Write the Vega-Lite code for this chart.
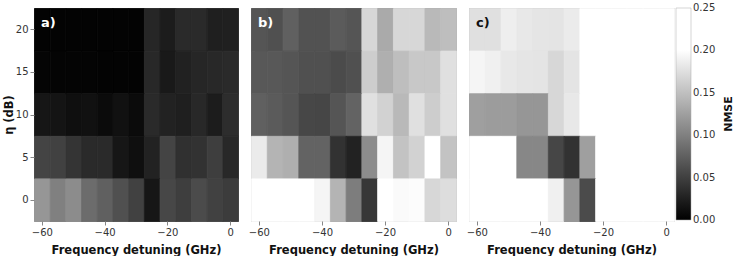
{
  "$schema": "https://vega.github.io/schema/vega-lite/v6.json",
  "background": "white",
  "padding": {"left": 2, "top": 7, "right": 0, "bottom": 0},
  "bounds": "flush",
  "config": {
    "font": "DejaVu Sans",
    "view": {"stroke": "#999", "strokeWidth": 1},
    "concat": {"spacing": 13},
    "axis": {
      "domain": false,
      "grid": false,
      "tickColor": "#888",
      "tickSize": 4,
      "labelFontSize": 10,
      "labelColor": "#333",
      "labelPadding": 2,
      "titleFontSize": 11.5,
      "titleFontWeight": "bold",
      "titleColor": "#111"
    },
    "legend": {
      "gradientLength": 212,
      "gradientThickness": 15,
      "gradientStrokeColor": "#aaa",
      "gradientStrokeWidth": 0.5,
      "offset": 0,
      "padding": 0,
      "labelFontSize": 10,
      "labelColor": "#333",
      "labelOffset": 5,
      "labelOverlap": false,
      "titleFontSize": 11,
      "titleFontWeight": "bold",
      "titleColor": "#111"
    }
  },
  "datasets": {
    "a": [
      {"f": -60, "eta": 20, "nmse": 0.002}, {"f": -55, "eta": 20, "nmse": 0.002}, {"f": -50, "eta": 20, "nmse": 0.002}, {"f": -45, "eta": 20, "nmse": 0.002}, {"f": -40, "eta": 20, "nmse": 0.002}, {"f": -35, "eta": 20, "nmse": 0.002}, {"f": -30, "eta": 20, "nmse": 0.002}, {"f": -25, "eta": 20, "nmse": 0.030}, {"f": -20, "eta": 20, "nmse": 0.022}, {"f": -15, "eta": 20, "nmse": 0.033}, {"f": -10, "eta": 20, "nmse": 0.033}, {"f": -5, "eta": 20, "nmse": 0.024}, {"f": 0, "eta": 20, "nmse": 0.025},
      {"f": -60, "eta": 15, "nmse": 0.004}, {"f": -55, "eta": 15, "nmse": 0.003}, {"f": -50, "eta": 15, "nmse": 0.003}, {"f": -45, "eta": 15, "nmse": 0.003}, {"f": -40, "eta": 15, "nmse": 0.002}, {"f": -35, "eta": 15, "nmse": 0.002}, {"f": -30, "eta": 15, "nmse": 0.002}, {"f": -25, "eta": 15, "nmse": 0.031}, {"f": -20, "eta": 15, "nmse": 0.020}, {"f": -15, "eta": 15, "nmse": 0.026}, {"f": -10, "eta": 15, "nmse": 0.030}, {"f": -5, "eta": 15, "nmse": 0.031}, {"f": 0, "eta": 15, "nmse": 0.033},
      {"f": -60, "eta": 10, "nmse": 0.017}, {"f": -55, "eta": 10, "nmse": 0.016}, {"f": -50, "eta": 10, "nmse": 0.012}, {"f": -45, "eta": 10, "nmse": 0.013}, {"f": -40, "eta": 10, "nmse": 0.009}, {"f": -35, "eta": 10, "nmse": 0.013}, {"f": -30, "eta": 10, "nmse": 0.009}, {"f": -25, "eta": 10, "nmse": 0.033}, {"f": -20, "eta": 10, "nmse": 0.027}, {"f": -15, "eta": 10, "nmse": 0.024}, {"f": -10, "eta": 10, "nmse": 0.031}, {"f": -5, "eta": 10, "nmse": 0.022}, {"f": 0, "eta": 10, "nmse": 0.035},
      {"f": -60, "eta": 5, "nmse": 0.053}, {"f": -55, "eta": 5, "nmse": 0.051}, {"f": -50, "eta": 5, "nmse": 0.041}, {"f": -45, "eta": 5, "nmse": 0.033}, {"f": -40, "eta": 5, "nmse": 0.033}, {"f": -35, "eta": 5, "nmse": 0.017}, {"f": -30, "eta": 5, "nmse": 0.012}, {"f": -25, "eta": 5, "nmse": 0.027}, {"f": -20, "eta": 5, "nmse": 0.053}, {"f": -15, "eta": 5, "nmse": 0.038}, {"f": -10, "eta": 5, "nmse": 0.039}, {"f": -5, "eta": 5, "nmse": 0.049}, {"f": 0, "eta": 5, "nmse": 0.031},
      {"f": -60, "eta": 0, "nmse": 0.118}, {"f": -55, "eta": 0, "nmse": 0.100}, {"f": -50, "eta": 0, "nmse": 0.110}, {"f": -45, "eta": 0, "nmse": 0.085}, {"f": -40, "eta": 0, "nmse": 0.075}, {"f": -35, "eta": 0, "nmse": 0.063}, {"f": -30, "eta": 0, "nmse": 0.051}, {"f": -25, "eta": 0, "nmse": 0.017}, {"f": -20, "eta": 0, "nmse": 0.056}, {"f": -15, "eta": 0, "nmse": 0.049}, {"f": -10, "eta": 0, "nmse": 0.059}, {"f": -5, "eta": 0, "nmse": 0.051}, {"f": 0, "eta": 0, "nmse": 0.047}
    ],
    "b": [
      {"f": -60, "eta": 20, "nmse": 0.067}, {"f": -55, "eta": 20, "nmse": 0.063}, {"f": -50, "eta": 20, "nmse": 0.075}, {"f": -45, "eta": 20, "nmse": 0.064}, {"f": -40, "eta": 20, "nmse": 0.064}, {"f": -35, "eta": 20, "nmse": 0.071}, {"f": -30, "eta": 20, "nmse": 0.067}, {"f": -25, "eta": 20, "nmse": 0.169}, {"f": -20, "eta": 20, "nmse": 0.133}, {"f": -15, "eta": 20, "nmse": 0.169}, {"f": -10, "eta": 20, "nmse": 0.169}, {"f": -5, "eta": 20, "nmse": 0.145}, {"f": 0, "eta": 20, "nmse": 0.149},
      {"f": -60, "eta": 15, "nmse": 0.069}, {"f": -55, "eta": 15, "nmse": 0.069}, {"f": -50, "eta": 15, "nmse": 0.067}, {"f": -45, "eta": 15, "nmse": 0.063}, {"f": -40, "eta": 15, "nmse": 0.063}, {"f": -35, "eta": 15, "nmse": 0.059}, {"f": -30, "eta": 15, "nmse": 0.063}, {"f": -25, "eta": 15, "nmse": 0.161}, {"f": -20, "eta": 15, "nmse": 0.137}, {"f": -15, "eta": 15, "nmse": 0.149}, {"f": -10, "eta": 15, "nmse": 0.157}, {"f": -5, "eta": 15, "nmse": 0.157}, {"f": 0, "eta": 15, "nmse": 0.176},
      {"f": -60, "eta": 10, "nmse": 0.075}, {"f": -55, "eta": 10, "nmse": 0.071}, {"f": -50, "eta": 10, "nmse": 0.067}, {"f": -45, "eta": 10, "nmse": 0.056}, {"f": -40, "eta": 10, "nmse": 0.055}, {"f": -35, "eta": 10, "nmse": 0.067}, {"f": -30, "eta": 10, "nmse": 0.078}, {"f": -25, "eta": 10, "nmse": 0.176}, {"f": -20, "eta": 10, "nmse": 0.165}, {"f": -15, "eta": 10, "nmse": 0.145}, {"f": -10, "eta": 10, "nmse": 0.176}, {"f": -5, "eta": 10, "nmse": 0.161}, {"f": 0, "eta": 10, "nmse": 0.176},
      {"f": -60, "eta": 5, "nmse": 0.184}, {"f": -55, "eta": 5, "nmse": 0.141}, {"f": -50, "eta": 5, "nmse": 0.137}, {"f": -45, "eta": 5, "nmse": 0.078}, {"f": -40, "eta": 5, "nmse": 0.078}, {"f": -35, "eta": 5, "nmse": 0.039}, {"f": -30, "eta": 5, "nmse": 0.027}, {"f": -25, "eta": 5, "nmse": 0.110}, {"f": -20, "eta": 5, "nmse": 0.192}, {"f": -15, "eta": 5, "nmse": 0.153}, {"f": -10, "eta": 5, "nmse": 0.165}, {"f": -5, "eta": 5, "nmse": 0.215}, {"f": 0, "eta": 5, "nmse": 0.153},
      {"f": -60, "eta": 0, "nmse": 0.212}, {"f": -55, "eta": 0, "nmse": 0.225}, {"f": -50, "eta": 0, "nmse": 0.218}, {"f": -45, "eta": 0, "nmse": 0.209}, {"f": -40, "eta": 0, "nmse": 0.192}, {"f": -35, "eta": 0, "nmse": 0.141}, {"f": -30, "eta": 0, "nmse": 0.098}, {"f": -25, "eta": 0, "nmse": 0.043}, {"f": -20, "eta": 0, "nmse": 0.221}, {"f": -15, "eta": 0, "nmse": 0.196}, {"f": -10, "eta": 0, "nmse": 0.198}, {"f": -5, "eta": 0, "nmse": 0.169}, {"f": 0, "eta": 0, "nmse": 0.173}
    ],
    "c": [
      {"f": -60, "eta": 20, "nmse": 0.176}, {"f": -55, "eta": 20, "nmse": 0.176}, {"f": -50, "eta": 20, "nmse": 0.187}, {"f": -45, "eta": 20, "nmse": 0.182}, {"f": -40, "eta": 20, "nmse": 0.180}, {"f": -35, "eta": 20, "nmse": 0.179}, {"f": -30, "eta": 20, "nmse": 0.184}, {"f": -25, "eta": 20, "nmse": 0.25}, {"f": -20, "eta": 20, "nmse": 0.25}, {"f": -15, "eta": 20, "nmse": 0.25}, {"f": -10, "eta": 20, "nmse": 0.25}, {"f": -5, "eta": 20, "nmse": 0.25}, {"f": 0, "eta": 20, "nmse": 0.25},
      {"f": -60, "eta": 15, "nmse": 0.192}, {"f": -55, "eta": 15, "nmse": 0.188}, {"f": -50, "eta": 15, "nmse": 0.182}, {"f": -45, "eta": 15, "nmse": 0.180}, {"f": -40, "eta": 15, "nmse": 0.179}, {"f": -35, "eta": 15, "nmse": 0.169}, {"f": -30, "eta": 15, "nmse": 0.179}, {"f": -25, "eta": 15, "nmse": 0.25}, {"f": -20, "eta": 15, "nmse": 0.25}, {"f": -15, "eta": 15, "nmse": 0.25}, {"f": -10, "eta": 15, "nmse": 0.25}, {"f": -5, "eta": 15, "nmse": 0.25}, {"f": 0, "eta": 15, "nmse": 0.25},
      {"f": -60, "eta": 10, "nmse": 0.125}, {"f": -55, "eta": 10, "nmse": 0.122}, {"f": -50, "eta": 10, "nmse": 0.122}, {"f": -45, "eta": 10, "nmse": 0.118}, {"f": -40, "eta": 10, "nmse": 0.118}, {"f": -35, "eta": 10, "nmse": 0.169}, {"f": -30, "eta": 10, "nmse": 0.182}, {"f": -25, "eta": 10, "nmse": 0.25}, {"f": -20, "eta": 10, "nmse": 0.25}, {"f": -15, "eta": 10, "nmse": 0.25}, {"f": -10, "eta": 10, "nmse": 0.25}, {"f": -5, "eta": 10, "nmse": 0.25}, {"f": 0, "eta": 10, "nmse": 0.25},
      {"f": -60, "eta": 5, "nmse": 0.25}, {"f": -55, "eta": 5, "nmse": 0.25}, {"f": -50, "eta": 5, "nmse": 0.25}, {"f": -45, "eta": 5, "nmse": 0.106}, {"f": -40, "eta": 5, "nmse": 0.106}, {"f": -35, "eta": 5, "nmse": 0.055}, {"f": -30, "eta": 5, "nmse": 0.039}, {"f": -25, "eta": 5, "nmse": 0.125}, {"f": -20, "eta": 5, "nmse": 0.25}, {"f": -15, "eta": 5, "nmse": 0.25}, {"f": -10, "eta": 5, "nmse": 0.25}, {"f": -5, "eta": 5, "nmse": 0.25}, {"f": 0, "eta": 5, "nmse": 0.25},
      {"f": -60, "eta": 0, "nmse": 0.25}, {"f": -55, "eta": 0, "nmse": 0.25}, {"f": -50, "eta": 0, "nmse": 0.25}, {"f": -45, "eta": 0, "nmse": 0.25}, {"f": -40, "eta": 0, "nmse": 0.25}, {"f": -35, "eta": 0, "nmse": 0.188}, {"f": -30, "eta": 0, "nmse": 0.118}, {"f": -25, "eta": 0, "nmse": 0.059}, {"f": -20, "eta": 0, "nmse": 0.25}, {"f": -15, "eta": 0, "nmse": 0.25}, {"f": -10, "eta": 0, "nmse": 0.25}, {"f": -5, "eta": 0, "nmse": 0.25}, {"f": 0, "eta": 0, "nmse": 0.25}
    ]
  },
  "resolve": {"scale": {"color": "shared"}, "legend": {"color": "shared"}},
  "hconcat": [
    {
      "width": 204,
      "height": 213,
      "layer": [
        {
          "data": {"name": "a"},
          "mark": {"type": "rect", "binSpacing": 0, "strokeWidth": 0.8, "stroke": {"expr": "scale('color', datum.nmse)"}},
          "encoding": {
            "x": {"field": "f", "type": "quantitative", "bin": {"step": 5, "extent": [-62.5, 2.5], "nice": false}, "scale": {"domain": [-62.5, 2.5], "nice": false, "zero": false}, "axis": {"values": [-60, -40, -20, 0], "format": "d", "title": "Frequency detuning (GHz)", "titlePadding": 7}},
            "y": {"field": "eta", "type": "quantitative", "bin": {"step": 5, "extent": [-2.5, 22.5], "nice": false}, "scale": {"domain": [-2.5, 22.5], "nice": false, "zero": false}, "axis": {"values": [0, 5, 10, 15, 20], "format": "d", "title": "η (dB)", "titlePadding": 1}},
            "color": {"field": "nmse", "type": "quantitative", "scale": {"domain": [0, 0.2, 0.25], "range": ["#000000", "#ffffff", "#ffffff"], "interpolate": "rgb", "clamp": true}, "legend": {"title": "NMSE", "values": [0, 0.05, 0.1, 0.15, 0.2, 0.25], "format": ".2f", "titleOrient": "right", "titleAnchor": "middle", "titleBaseline": "top", "titlePadding": 8, "encode": {"title": {"update": {"angle": {"value": 270}}}, "labels": {"update": {"baseline": {"value": "middle"}}}}}}
          }
        },
        {
          "data": {"values": [{"label": "a)"}]},
          "mark": {"type": "text", "color": "white", "fontWeight": "bold", "fontSize": 13, "align": "left", "baseline": "middle"},
          "encoding": {"text": {"field": "label"}, "x": {"datum": -60.3}, "y": {"datum": 20.7}}
        }
      ]
    },
    {
      "width": 205,
      "height": 213,
      "layer": [
        {
          "data": {"name": "b"},
          "mark": {"type": "rect", "binSpacing": 0, "strokeWidth": 0.8, "stroke": {"expr": "scale('color', datum.nmse)"}},
          "encoding": {
            "x": {"field": "f", "type": "quantitative", "bin": {"step": 5, "extent": [-62.5, 2.5], "nice": false}, "scale": {"domain": [-62.5, 2.5], "nice": false, "zero": false}, "axis": {"values": [-60, -40, -20, 0], "format": "d", "title": "Frequency detuning (GHz)", "titlePadding": 7}},
            "y": {"field": "eta", "type": "quantitative", "bin": {"step": 5, "extent": [-2.5, 22.5], "nice": false}, "scale": {"domain": [-2.5, 22.5], "nice": false, "zero": false}, "axis": null},
            "color": {"field": "nmse", "type": "quantitative", "scale": {"domain": [0, 0.2, 0.25], "range": ["#000000", "#ffffff", "#ffffff"], "interpolate": "rgb", "clamp": true}, "legend": {"title": "NMSE", "values": [0, 0.05, 0.1, 0.15, 0.2, 0.25], "format": ".2f", "titleOrient": "right", "titleAnchor": "middle", "titleBaseline": "top", "titlePadding": 8, "encode": {"title": {"update": {"angle": {"value": 270}}}, "labels": {"update": {"baseline": {"value": "middle"}}}}}}
          }
        },
        {
          "data": {"values": [{"label": "b)"}]},
          "mark": {"type": "text", "color": "white", "fontWeight": "bold", "fontSize": 13, "align": "left", "baseline": "middle"},
          "encoding": {"text": {"field": "label"}, "x": {"datum": -60.3}, "y": {"datum": 20.7}}
        }
      ]
    },
    {
      "width": 205,
      "height": 213,
      "layer": [
        {
          "data": {"name": "c"},
          "mark": {"type": "rect", "binSpacing": 0, "strokeWidth": 0.8, "stroke": {"expr": "scale('color', datum.nmse)"}},
          "encoding": {
            "x": {"field": "f", "type": "quantitative", "bin": {"step": 5, "extent": [-62.5, 2.5], "nice": false}, "scale": {"domain": [-62.5, 2.5], "nice": false, "zero": false}, "axis": {"values": [-60, -40, -20, 0], "format": "d", "title": "Frequency detuning (GHz)", "titlePadding": 7}},
            "y": {"field": "eta", "type": "quantitative", "bin": {"step": 5, "extent": [-2.5, 22.5], "nice": false}, "scale": {"domain": [-2.5, 22.5], "nice": false, "zero": false}, "axis": null},
            "color": {"field": "nmse", "type": "quantitative", "scale": {"domain": [0, 0.2, 0.25], "range": ["#000000", "#ffffff", "#ffffff"], "interpolate": "rgb", "clamp": true}, "legend": {"title": "NMSE", "values": [0, 0.05, 0.1, 0.15, 0.2, 0.25], "format": ".2f", "titleOrient": "right", "titleAnchor": "middle", "titleBaseline": "top", "titlePadding": 8, "encode": {"title": {"update": {"angle": {"value": 270}}}, "labels": {"update": {"baseline": {"value": "middle"}}}}}}
          }
        },
        {
          "data": {"values": [{"label": "c)"}]},
          "mark": {"type": "text", "color": "#111", "fontWeight": "bold", "fontSize": 13, "align": "left", "baseline": "middle"},
          "encoding": {"text": {"field": "label"}, "x": {"datum": -60.3}, "y": {"datum": 20.7}}
        }
      ]
    }
  ]
}
